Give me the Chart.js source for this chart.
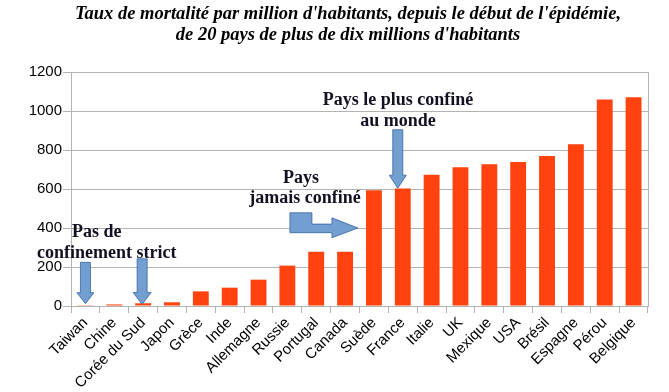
<!DOCTYPE html>
<html>
<head>
<meta charset="utf-8">
<script src="https://cdn.jsdelivr.net/npm/chart.js@4/dist/chart.umd.min.js"></script>
<style>
  html, body { margin: 0; padding: 0; background: #ffffff; }
  #wrap { width: 669px; height: 392px; position: relative; }
</style>
</head>
<body>
<div id="wrap"><canvas id="chart"></canvas></div>
<script>
// Countries (x axis)
const countries = ["Taiwan", "Chine", "Corée du Sud", "Japon", "Grèce", "Inde", "Allemagne",
  "Russie", "Portugal", "Canada", "Suède", "France", "Italie", "UK", "Mexique", "USA",
  "Brésil", "Espagne", "Pérou", "Belgique"];

// Deaths per million inhabitants
const deathsPerMillion = [4, 8, 14, 19, 75, 94, 135, 207, 278, 278, 594, 602, 673, 711,
  727, 738, 769, 830, 1059, 1071];

// Y axis range / step
const yMin = 0;
const yMax = 1200;
const yStep = 200;

const titleLines = [
  "Taux de mortalité par million d'habitants, depuis le début de l'épidémie,",
  "de 20 pays de plus de dix millions d'habitants"
];

const gridColor = "#b3b3b3";
const arrowFill = "#729fcf";
const arrowLine = "#3465a4";

// down arrow helper
function downArrow(ctx, cx, yTop, yTip, shaftW, headW, headH) {
  ctx.beginPath();
  ctx.moveTo(cx - shaftW / 2, yTop);
  ctx.lineTo(cx + shaftW / 2, yTop);
  ctx.lineTo(cx + shaftW / 2, yTip - headH);
  ctx.lineTo(cx + headW / 2, yTip - headH);
  ctx.lineTo(cx, yTip);
  ctx.lineTo(cx - headW / 2, yTip - headH);
  ctx.lineTo(cx - shaftW / 2, yTip - headH);
  ctx.closePath();
  ctx.fill();
  ctx.stroke();
}

// title, notes + arrows drawn on top of the bars
const notesPlugin = {
  id: "notes",
  afterDatasetsDraw(chart) {
    const ctx = chart.ctx;
    const x = chart.scales.x;
    const y = chart.scales.y;
    const area = chart.chartArea;
    ctx.save();

    // title (a bit right of centre like the original)
    ctx.fillStyle = "#000000";
    ctx.font = "italic bold 18.5px 'Liberation Serif'";
    ctx.textAlign = "center";
    ctx.textBaseline = "middle";
    ctx.fillText(titleLines[0], 348, 14);
    ctx.fillText(titleLines[1], 348, 35);

    // right frame line
    ctx.strokeStyle = gridColor;
    ctx.lineWidth = 1;
    ctx.beginPath();
    ctx.moveTo(Math.round(area.right) + 0.5, area.top);
    ctx.lineTo(Math.round(area.right) + 0.5, area.bottom);
    ctx.stroke();

    ctx.fillStyle = arrowFill;
    ctx.strokeStyle = arrowLine;
    ctx.lineWidth = 0.8;

    // Taiwan + Corée du Sud
    downArrow(ctx, x.getPixelForValue(0), y.getPixelForValue(224), y.getPixelForValue(12), 10, 17, 11);
    downArrow(ctx, x.getPixelForValue(2) - 1, y.getPixelForValue(242), y.getPixelForValue(8), 10, 18, 12);
    // France
    downArrow(ctx, x.getPixelForValue(11) - 5, y.getPixelForValue(904), y.getPixelForValue(604), 10, 17, 13);

    // Sweden: bent arrow pointing right
    const tipX = x.getPixelForValue(10) - 16;
    const yA = y.getPixelForValue(478);
    const yB = y.getPixelForValue(376);
    const yMid = y.getPixelForValue(420);
    const yTip = y.getPixelForValue(400);
    const yHt = y.getPixelForValue(452);
    const yHb = y.getPixelForValue(350);
    ctx.beginPath();
    ctx.moveTo(tipX - 68, yA);
    ctx.lineTo(tipX - 46, yA);
    ctx.lineTo(tipX - 46, yMid);
    ctx.lineTo(tipX - 26, yMid);
    ctx.lineTo(tipX - 26, yHt);
    ctx.lineTo(tipX, yTip);
    ctx.lineTo(tipX - 26, yHb);
    ctx.lineTo(tipX - 26, yB);
    ctx.lineTo(tipX - 68, yB);
    ctx.closePath();
    ctx.fill();
    ctx.stroke();

    // texts
    ctx.fillStyle = "#111122";
    ctx.font = "bold 18px 'Liberation Serif'";
    ctx.textBaseline = "middle";
    ctx.textAlign = "left";
    ctx.fillText("Pas de", 72, 232);
    ctx.fillText("confinement strict", 37, 253);
    ctx.textAlign = "center";
    ctx.fillText("Pays", 301, 178);
    ctx.fillText("jamais confiné", 305, 198);
    ctx.fillText("Pays le plus confiné", 398, 100);
    ctx.fillText("au monde", 398, 121);
    ctx.restore();
  }
};

const canvasRef = document.getElementById("chart");

let myChart = new Chart(canvasRef, {
  type: "bar",
  data: {
    labels: countries,
    datasets: [
      {
        label: "Taux de mortalité",
        data: deathsPerMillion,
        backgroundColor: "#ff420e",
        categoryPercentage: 1,
        barPercentage: 0.55,
      },
    ],
  },
  options: {
    responsive: true,
    maintainAspectRatio: false,
    animation: false,
    layout: {
      padding: { top: 72, right: 21, bottom: 0, left: 0 },
    },
    plugins: {
      legend: { display: false },
      tooltip: { enabled: false },
      title: { display: false },
    },
    scales: {
      x: {
        offset: true,
        grid: {
          offset: true,
          drawOnChartArea: false,
          drawTicks: true,
          tickLength: 7,
          tickColor: gridColor,
          color: gridColor,
        },
        border: { color: gridColor },
        ticks: {
          color: "#000000",
          font: { family: "'Liberation Sans'", size: 15 },
          minRotation: 45,
          maxRotation: 45,
          autoSkip: false,
          padding: 1,
        },
        afterFit(scale) {
          scale.height = 86;
        },
      },
      y: {
        min: yMin,
        max: yMax,
        grid: {
          color: gridColor,
          tickLength: 8,
          tickColor: gridColor,
        },
        border: { color: gridColor },
        ticks: {
          stepSize: yStep,
          color: "#000000",
          font: { family: "'Liberation Sans'", size: 15 },
          padding: 1,
          callback: (value) => String(value),
        },
        afterFit(scale) {
          scale.width = 71;
        },
      },
    },
  },
  plugins: [notesPlugin],
});
</script>
</body>
</html>
